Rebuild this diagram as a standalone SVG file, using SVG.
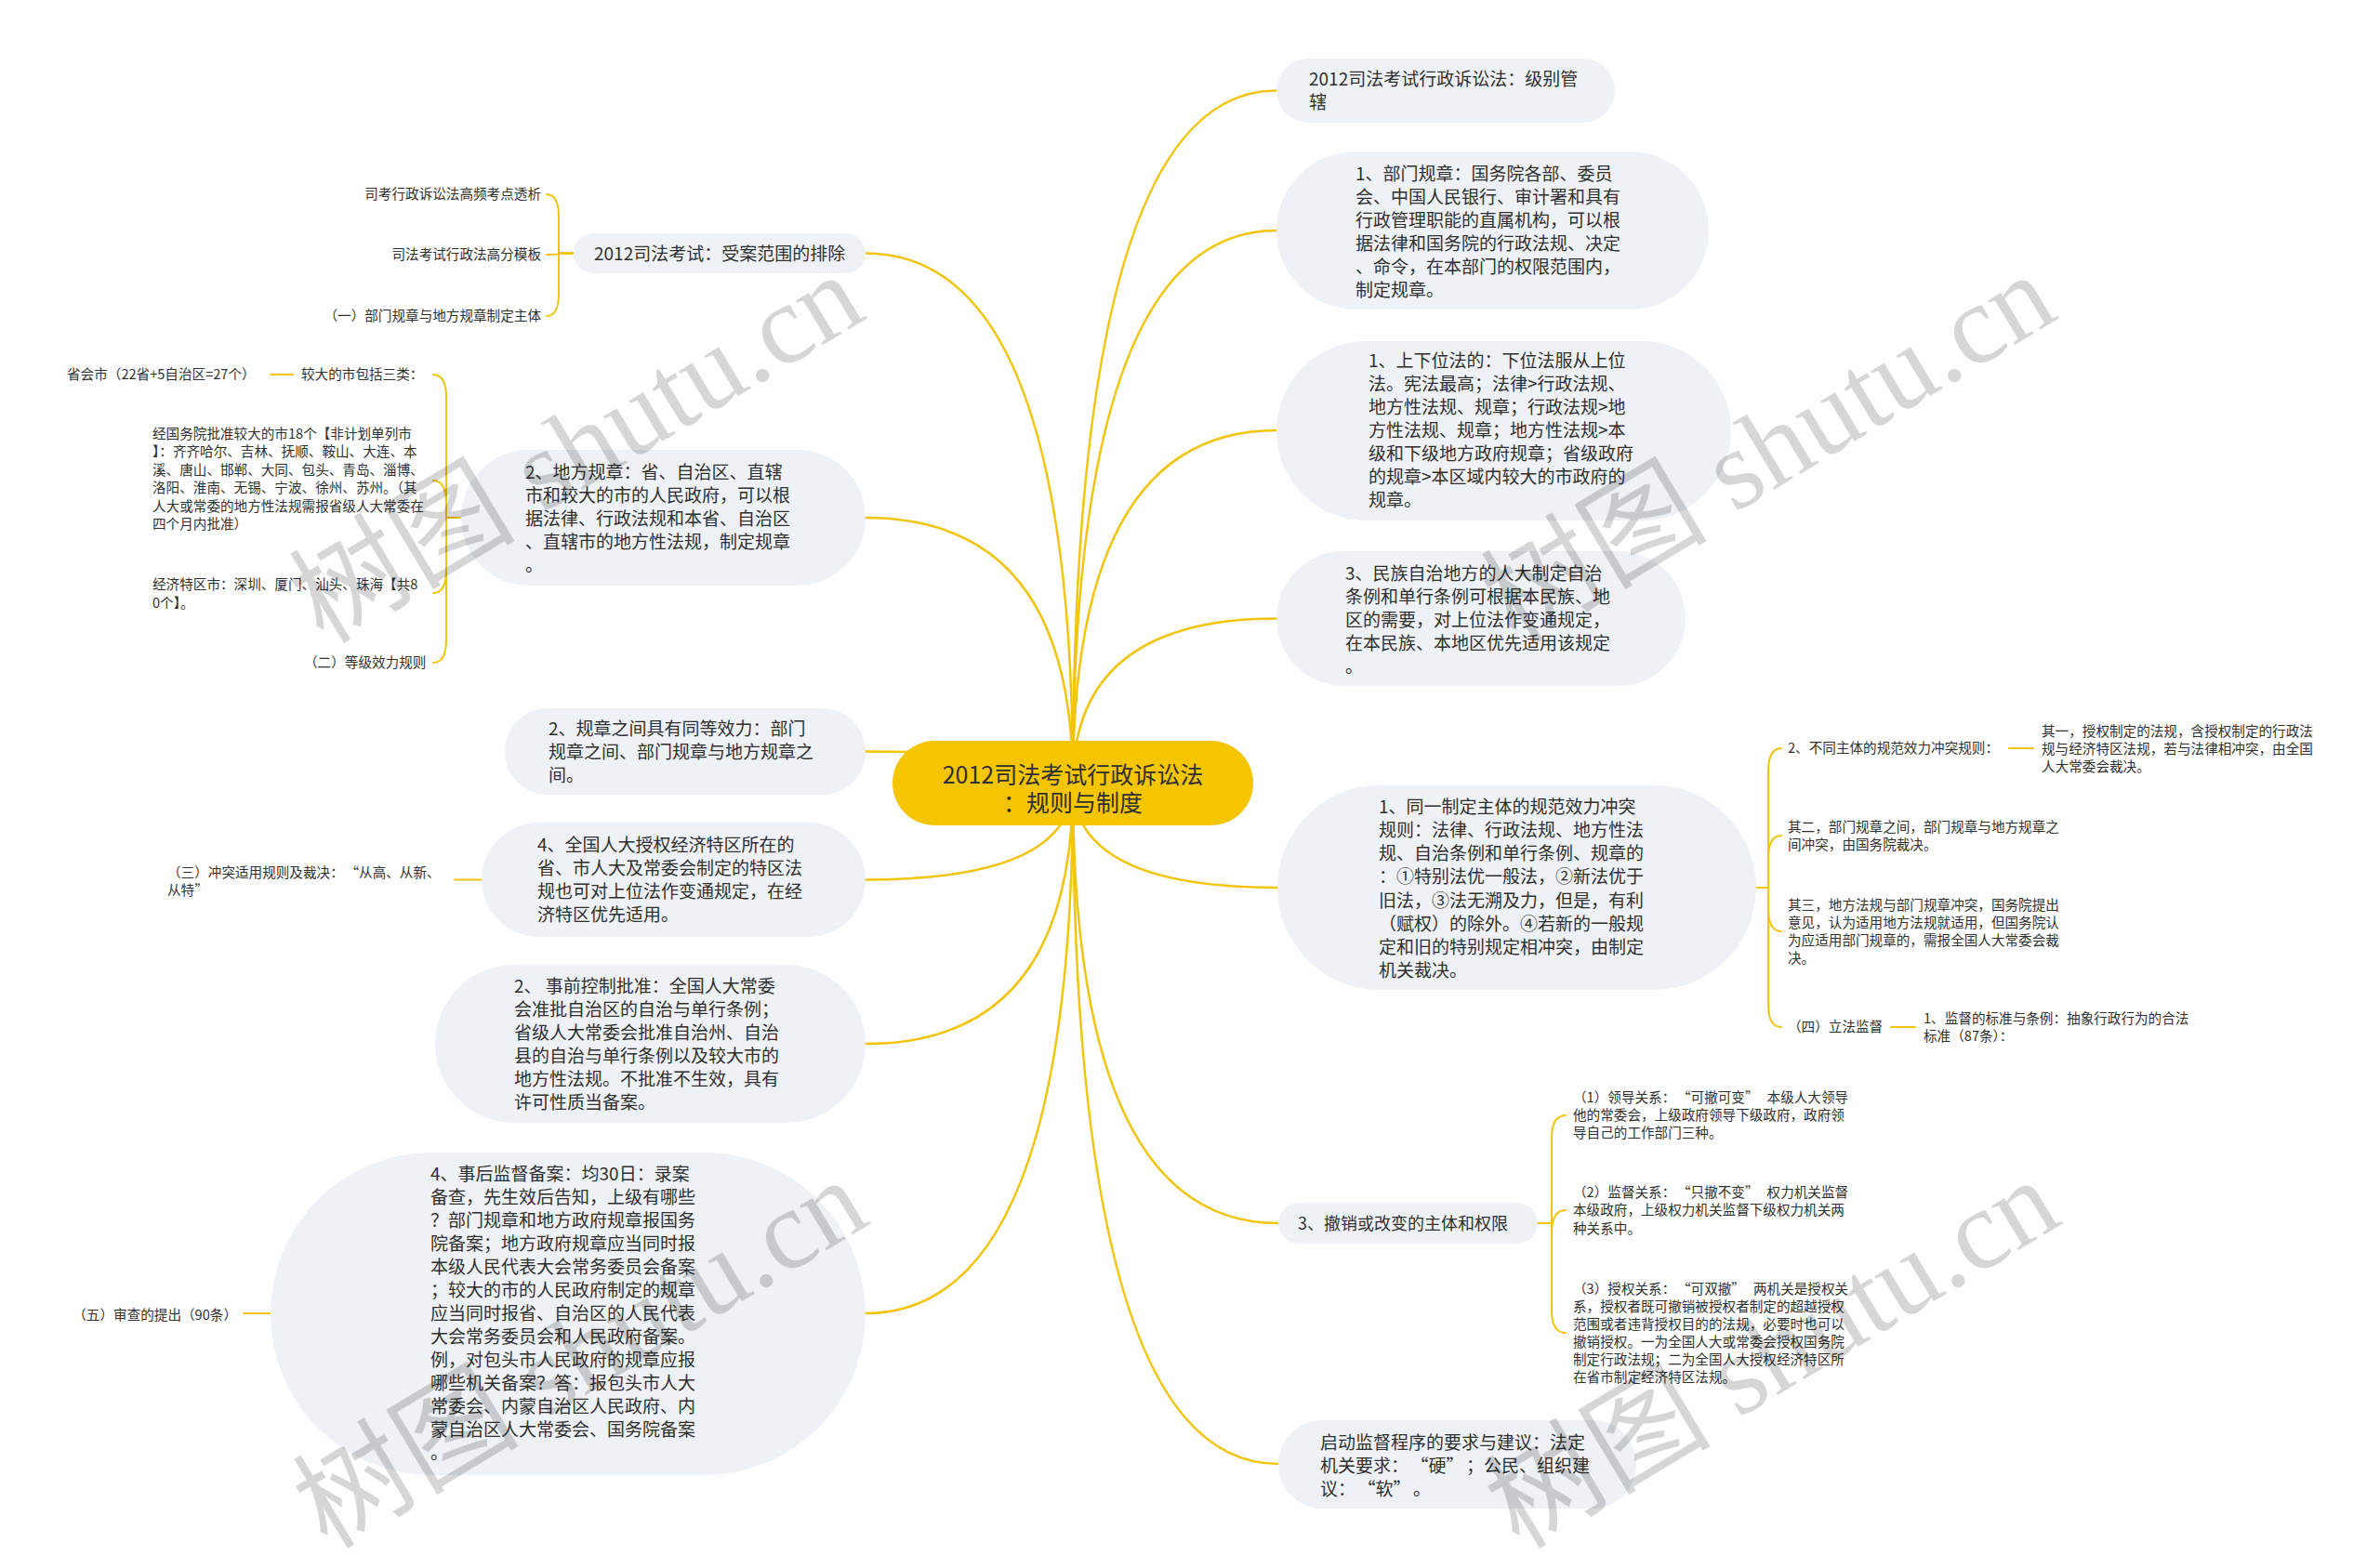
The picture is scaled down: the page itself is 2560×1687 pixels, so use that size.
<svg xmlns="http://www.w3.org/2000/svg" width="2560" height="1687" viewBox="0 0 2560 1687">
<style>
.bg{fill:#ffffff}
.c{fill:none;stroke:#F2C40E;stroke-width:2.5;stroke-linecap:round}
.s{fill:none;stroke:#F2C40E;stroke-width:2;stroke-linecap:round}
.n{fill:#EEF1F5}
.root{fill:#F5C500}
text{font-family:"Noto Sans CJK SC","Noto Sans",sans-serif;fill:#2f2f2f}
.t19{font-size:19px}
.t18{font-size:18px}
.t14{font-size:14.6px}
.t26{font-size:25px}
.wm{font-family:"Liberation Serif","Noto Sans CJK SC",serif;font-size:122px;fill:#000;fill-opacity:0.16}
</style>
<rect class="bg" x="0" y="0" width="2560" height="1687"/>

<g id="connectors">
  <path class="c" d="M1154,843 Q1154,97.5 1373,97.5"/>
  <path class="c" d="M1154,843 Q1154,248 1373,248"/>
  <path class="c" d="M1154,843 Q1154,463 1373,463"/>
  <path class="c" d="M1154,843 Q1154,665.5 1373,665.5"/>
  <path class="c" d="M1154,843 Q1154,955 1374,955"/>
  <path class="c" d="M1154,843 Q1154,1316 1375,1316"/>
  <path class="c" d="M1154,843 Q1154,1575 1375,1575"/>
  <path class="c" d="M1154,843 Q1154,272.5 931,272.5"/>
  <path class="c" d="M1154,843 Q1154,557 931,557"/>
  <path class="c" d="M1154,843 Q1154,808.5 931,808.5"/>
  <path class="c" d="M1154,843 Q1154,946.5 931,946.5"/>
  <path class="c" d="M1154,843 Q1154,1123 931,1123"/>
  <path class="c" d="M1154,843 Q1154,1413 931,1413"/>
  <path class="s" d="M617,272.5 H601 V234 Q601,209 588,209"/>
  <path class="s" d="M617,272.5 H601 Q601,274 588,274"/>
  <path class="s" d="M617,272.5 H601 V315 Q601,340 588,340"/>
  <path class="s" d="M496,557 H480 V428 Q480,403 466,403"/>
  <path class="s" d="M496,557 H480 V542 Q480,517 466,517"/>
  <path class="s" d="M496,557 H480 V613 Q480,638 466,638"/>
  <path class="s" d="M496,557 H480 V688 Q480,713 466,713"/>
  <line class="s" x1="291" y1="403" x2="315" y2="403"/>
  <line class="s" x1="489" y1="946.5" x2="518" y2="946.5"/>
  <line class="s" x1="262" y1="1413" x2="291" y2="1413"/>
  <path class="s" d="M1889,955 H1902 V830 Q1902,805 1916,805"/>
  <path class="s" d="M1889,955 H1902 V924 Q1902,899 1916,899"/>
  <path class="s" d="M1889,955 H1902 V977 Q1902,1002 1916,1002"/>
  <path class="s" d="M1889,955 H1902 V1080 Q1902,1105 1916,1105"/>
  <line class="s" x1="2161" y1="805" x2="2187" y2="805"/>
  <line class="s" x1="2034" y1="1105" x2="2060" y2="1105"/>
  <path class="s" d="M1654,1316 H1669 V1225 Q1669,1200 1684,1200"/>
  <path class="s" d="M1654,1316 H1669 V1327 Q1669,1302 1684,1302"/>
  <path class="s" d="M1654,1316 H1669 V1409 Q1669,1434 1684,1434"/>
</g>

<g id="root">
  <rect class="root" x="960" y="797" width="388" height="91" rx="45.5"/>
  <text class="t26" text-anchor="middle"><tspan x="1154" y="843">2012司法考试行政诉讼法</tspan><tspan x="1154" y="873">：规则与制度</tspan></text>
</g>

<g id="r1">
  <rect class="n" x="1373" y="63" width="364" height="69" rx="34.5"/>
  <text class="t19"><tspan x="1408" y="92">2012司法考试行政诉讼法：级别管</tspan><tspan x="1408" y="117">辖</tspan></text>
</g>
<g id="r2">
  <rect class="n" x="1373" y="163" width="465" height="170" rx="85"/>
  <text class="t19"><tspan x="1458" y="194">1、部门规章：国务院各部、委员</tspan><tspan x="1458" y="219">会、中国人民银行、审计署和具有</tspan><tspan x="1458" y="244">行政管理职能的直属机构，可以根</tspan><tspan x="1458" y="269">据法律和国务院的行政法规、决定</tspan><tspan x="1458" y="294">、命令，在本部门的权限范围内，</tspan><tspan x="1458" y="319">制定规章。</tspan></text>
</g>
<g id="r3">
  <rect class="n" x="1373" y="367" width="489" height="193" rx="96.5"/>
  <text class="t19"><tspan x="1472" y="395">1、上下位法的：下位法服从上位</tspan><tspan x="1472" y="420">法。宪法最高；法律&gt;行政法规、</tspan><tspan x="1472" y="445">地方性法规、规章；行政法规&gt;地</tspan><tspan x="1472" y="470">方性法规、规章；地方性法规&gt;本</tspan><tspan x="1472" y="495">级和下级地方政府规章；省级政府</tspan><tspan x="1472" y="520">的规章&gt;本区域内较大的市政府的</tspan><tspan x="1472" y="545">规章。</tspan></text>
</g>
<g id="r4">
  <rect class="n" x="1373" y="593" width="440" height="145" rx="72.5"/>
  <text class="t19"><tspan x="1447" y="624">3、民族自治地方的人大制定自治</tspan><tspan x="1447" y="649">条例和单行条例可根据本民族、地</tspan><tspan x="1447" y="674">区的需要，对上位法作变通规定，</tspan><tspan x="1447" y="699">在本民族、本地区优先适用该规定</tspan><tspan x="1447" y="724">。</tspan></text>
</g>
<g id="r5">
  <rect class="n" x="1374" y="845" width="515" height="220" rx="110"/>
  <text class="t19"><tspan x="1483" y="875">1、同一制定主体的规范效力冲突</tspan><tspan x="1483" y="900">规则：法律、行政法规、地方性法</tspan><tspan x="1483" y="925">规、自治条例和单行条例、规章的</tspan><tspan x="1483" y="950">：①特别法优一般法，②新法优于</tspan><tspan x="1483" y="976">旧法，③法无溯及力，但是，有利</tspan><tspan x="1483" y="1001">（赋权）的除外。④若新的一般规</tspan><tspan x="1483" y="1026">定和旧的特别规定相冲突，由制定</tspan><tspan x="1483" y="1051">机关裁决。</tspan></text>
</g>
<g id="r5a">
  <text class="t14" x="1923" y="810">2、不同主体的规范效力冲突规则：</text>
</g>
<g id="r5a1">
  <text class="t14"><tspan x="2196" y="792">其一，授权制定的法规，含授权制定的行政法</tspan><tspan x="2196" y="811">规与经济特区法规，若与法律相冲突，由全国</tspan><tspan x="2196" y="830">人大常委会裁决。</tspan></text>
</g>
<g id="r5b">
  <text class="t14"><tspan x="1923" y="895">其二，部门规章之间，部门规章与地方规章之</tspan><tspan x="1923" y="914">间冲突，由国务院裁决。</tspan></text>
</g>
<g id="r5c">
  <text class="t14"><tspan x="1923" y="979">其三，地方法规与部门规章冲突，国务院提出</tspan><tspan x="1923" y="998">意见，认为适用地方法规就适用，但国务院认</tspan><tspan x="1923" y="1017">为应适用部门规章的，需报全国人大常委会裁</tspan><tspan x="1923" y="1036">决。</tspan></text>
</g>
<g id="r5d">
  <text class="t14" x="1923" y="1110">（四）立法监督</text>
</g>
<g id="r5d1">
  <text class="t14"><tspan x="2069" y="1101">1、监督的标准与条例：抽象行政行为的合法</tspan><tspan x="2069" y="1120">标准（87条）：</tspan></text>
</g>
<g id="r6">
  <rect class="n" x="1375" y="1294" width="279" height="44" rx="22"/>
  <text class="t18" x="1396" y="1322.5">3、撤销或改变的主体和权限</text>
</g>
<g id="r6a">
  <text class="t14"><tspan x="1692" y="1186">（1）领导关系：<tspan dx="9">“</tspan>可撤可变”<tspan dx="9">本级人大领导</tspan></tspan><tspan x="1692" y="1205">他的常委会，上级政府领导下级政府，政府领</tspan><tspan x="1692" y="1224">导自己的工作部门三种。</tspan></text>
</g>
<g id="r6b">
  <text class="t14"><tspan x="1692" y="1288">（2）监督关系：<tspan dx="9">“</tspan>只撤不变”<tspan dx="9">权力机关监督</tspan></tspan><tspan x="1692" y="1307">本级政府，上级权力机关监督下级权力机关两</tspan><tspan x="1692" y="1327">种关系中。</tspan></text>
</g>
<g id="r6c">
  <text class="t14"><tspan x="1692" y="1392">（3）授权关系：<tspan dx="9">“</tspan>可双撤”<tspan dx="9">两机关是授权关</tspan></tspan><tspan x="1692" y="1411">系，授权者既可撤销被授权者制定的超越授权</tspan><tspan x="1692" y="1430">范围或者违背授权目的的法规，必要时也可以</tspan><tspan x="1692" y="1449">撤销授权。一为全国人大或常委会授权国务院</tspan><tspan x="1692" y="1468">制定行政法规；二为全国人大授权经济特区所</tspan><tspan x="1692" y="1487">在省市制定经济特区法规。</tspan></text>
</g>
<g id="r7">
  <rect class="n" x="1375" y="1528" width="385" height="95" rx="47.5"/>
  <text class="t19"><tspan x="1420" y="1559">启动监督程序的要求与建议：法定</tspan><tspan x="1420" y="1584">机关要求：<tspan dx="12">“</tspan>硬”<tspan dx="12">；公民、组织建</tspan></tspan><tspan x="1420" y="1609">议：<tspan dx="12">“</tspan>软”<tspan dx="12">。</tspan></tspan></text>
</g>

<g id="l1">
  <rect class="n" x="617" y="251" width="314" height="43" rx="21.5"/>
  <text class="t19" x="639" y="280">2012司法考试：受案范围的排除</text>
</g>
<g id="l1a"><text class="t14" x="582" y="214" text-anchor="end">司考行政诉讼法高频考点透析</text></g>
<g id="l1b"><text class="t14" x="582" y="279" text-anchor="end">司法考试行政法高分模板</text></g>
<g id="l1c"><text class="t14" x="582" y="345" text-anchor="end">（一）部门规章与地方规章制定主体</text></g>

<g id="l2">
  <rect class="n" x="496" y="484" width="435" height="146" rx="73"/>
  <text class="t19"><tspan x="565" y="515">2、地方规章：省、自治区、直辖</tspan><tspan x="565" y="540">市和较大的市的人民政府，可以根</tspan><tspan x="565" y="565">据法律、行政法规和本省、自治区</tspan><tspan x="565" y="590">、直辖市的地方性法规，制定规章</tspan><tspan x="565" y="615">。</tspan></text>
</g>
<g id="l2a"><text class="t14" x="324" y="408">较大的市包括三类：</text></g>
<g id="l2a1"><text class="t14" x="72" y="408">省会市（22省+5自治区=27个）</text></g>
<g id="l2b">
  <text class="t14"><tspan x="164" y="472">经国务院批准较大的市18个【非计划单列市</tspan><tspan x="164" y="491.4">】：齐齐哈尔、吉林、抚顺、鞍山、大连、本</tspan><tspan x="164" y="510.8">溪、唐山、邯郸、大同、包头、青岛、淄博、</tspan><tspan x="164" y="530.2">洛阳、淮南、无锡、宁波、徐州、苏州。（其</tspan><tspan x="164" y="549.6">人大或常委的地方性法规需报省级人大常委在</tspan><tspan x="164" y="569">四个月内批准）</tspan></text>
</g>
<g id="l2c">
  <text class="t14"><tspan x="164" y="634">经济特区市：深圳、厦门、汕头、珠海【共8</tspan><tspan x="164" y="653.5">0个】。</tspan></text>
</g>
<g id="l2d"><text class="t14" x="327" y="718">（二）等级效力规则</text></g>

<g id="l3">
  <rect class="n" x="543" y="762" width="388" height="93" rx="46.5"/>
  <text class="t19"><tspan x="590" y="790.5">2、规章之间具有同等效力：部门</tspan><tspan x="590" y="815.5">规章之间、部门规章与地方规章之</tspan><tspan x="590" y="840.5">间。</tspan></text>
</g>
<g id="l4">
  <rect class="n" x="518" y="885" width="413" height="123" rx="61.5"/>
  <text class="t19"><tspan x="578" y="916">4、全国人大授权经济特区所在的</tspan><tspan x="578" y="941">省、市人大及常委会制定的特区法</tspan><tspan x="578" y="966">规也可对上位法作变通规定，在经</tspan><tspan x="578" y="991">济特区优先适用。</tspan></text>
</g>
<g id="l4a">
  <text class="t14"><tspan x="180" y="944">（三）冲突适用规则及裁决：<tspan dx="9">“</tspan>从高、从新、</tspan><tspan x="180" y="963">从特”</tspan></text>
</g>
<g id="l5">
  <rect class="n" x="468" y="1038" width="463" height="170" rx="85"/>
  <text class="t19"><tspan x="553" y="1068">2、 事前控制批准：全国人大常委</tspan><tspan x="553" y="1093">会准批自治区的自治与单行条例；</tspan><tspan x="553" y="1118">省级人大常委会批准自治州、自治</tspan><tspan x="553" y="1143">县的自治与单行条例以及较大市的</tspan><tspan x="553" y="1168">地方性法规。不批准不生效，具有</tspan><tspan x="553" y="1193">许可性质当备案。</tspan></text>
</g>
<g id="l6">
  <rect class="n" x="291" y="1240" width="640" height="347" rx="173.5"/>
  <text class="t19"><tspan x="463" y="1270">4、事后监督备案：均30日：录案</tspan><tspan x="463" y="1295">备查，先生效后告知，上级有哪些</tspan><tspan x="463" y="1320">？部门规章和地方政府规章报国务</tspan><tspan x="463" y="1345">院备案；地方政府规章应当同时报</tspan><tspan x="463" y="1370">本级人民代表大会常务委员会备案</tspan><tspan x="463" y="1395">；较大的市的人民政府制定的规章</tspan><tspan x="463" y="1420">应当同时报省、自治区的人民代表</tspan><tspan x="463" y="1445">大会常务委员会和人民政府备案。</tspan><tspan x="463" y="1470">例，对包头市人民政府的规章应报</tspan><tspan x="463" y="1495">哪些机关备案？答：报包头市人大</tspan><tspan x="463" y="1520">常委会、内蒙自治区人民政府、内</tspan><tspan x="463" y="1545">蒙自治区人大常委会、国务院备案</tspan><tspan x="463" y="1570">。</tspan></text>
</g>
<g id="l6a"><text class="t14" x="255" y="1420" text-anchor="end">（五）审查的提出（90条）</text></g>

<g id="watermark">
  <text class="wm" transform="translate(348,694) rotate(-31)">树图 shutu.cn</text>
  <text class="wm" transform="translate(1630,694) rotate(-31)">树图 shutu.cn</text>
  <text class="wm" transform="translate(352,1668) rotate(-31)">树图 shutu.cn</text>
  <text class="wm" transform="translate(1634,1668) rotate(-31)">树图 shutu.cn</text>
</g>
</svg>
